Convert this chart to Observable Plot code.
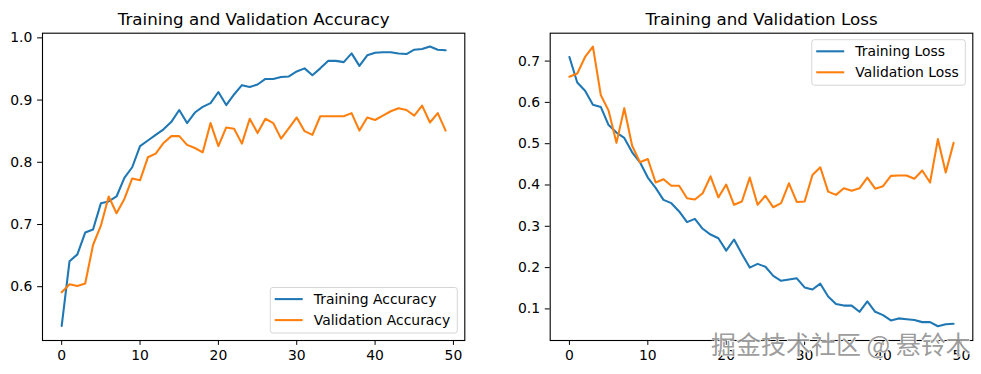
<!DOCTYPE html>
<html>
<head>
<meta charset="utf-8">
<script src="https://cdn.jsdelivr.net/npm/d3@7"></script>
<script src="https://cdn.jsdelivr.net/npm/@observablehq/plot@0.6"></script>
<style>
  html, body { margin: 0; padding: 0; background: white; }
  #wrap { position: relative; width: 981px; height: 374px; overflow: hidden; background: white; }
  #wrap > svg { position: absolute; top: 0; }
</style>
</head>
<body>
<div id="wrap"></div>
<script>
// ---- data ----
const trainAcc = [0.537,0.641,0.652,0.687,0.692,0.734,0.737,0.745,0.775,0.792,
  0.826,0.835,0.844,0.853,0.865,0.884,0.863,0.880,0.889,0.895,
  0.913,0.892,0.909,0.924,0.921,0.925,0.934,0.934,0.937,0.938,
  0.946,0.951,0.940,0.951,0.963,0.963,0.961,0.975,0.955,0.972,
  0.976,0.977,0.977,0.975,0.974,0.981,0.982,0.986,0.981,0.980];
const valAcc = [0.591,0.604,0.601,0.605,0.667,0.698,0.745,0.718,0.741,0.774,
  0.771,0.808,0.814,0.831,0.842,0.842,0.828,0.823,0.816,0.863,
  0.826,0.856,0.854,0.830,0.870,0.847,0.870,0.863,0.838,0.855,
  0.872,0.850,0.844,0.874,0.874,0.874,0.874,0.879,0.851,0.872,
  0.868,0.875,0.882,0.887,0.884,0.875,0.891,0.864,0.879,0.851];
const trainLoss = [0.710,0.648,0.628,0.594,0.589,0.545,0.527,0.514,0.479,0.455,
  0.418,0.393,0.364,0.356,0.336,0.310,0.318,0.294,0.280,0.271,
  0.241,0.268,0.233,0.200,0.209,0.202,0.180,0.168,0.171,0.174,
  0.152,0.147,0.161,0.130,0.112,0.108,0.108,0.093,0.118,0.093,
  0.085,0.072,0.077,0.075,0.073,0.068,0.068,0.058,0.063,0.064];
const valLoss = [0.662,0.670,0.710,0.735,0.618,0.580,0.502,0.586,0.495,0.455,
  0.463,0.406,0.414,0.398,0.398,0.368,0.365,0.380,0.421,0.370,
  0.401,0.352,0.360,0.418,0.352,0.374,0.346,0.356,0.404,0.359,
  0.360,0.424,0.443,0.384,0.376,0.392,0.386,0.392,0.418,0.391,
  0.397,0.422,0.423,0.423,0.415,0.435,0.406,0.511,0.430,0.502];
const xTicks = [0, 10, 20, 30, 40, 50];
const accTicks = [0.6, 0.7, 0.8, 0.9, 1.0];
const lossTicks = [0.1, 0.2, 0.3, 0.4, 0.5, 0.6, 0.7];
const titles = ["Training and Validation Accuracy", "Training and Validation Loss"];
const accLabels = ["Training Accuracy", "Validation Accuracy"];
const lossLabels = ["Training Loss", "Validation Loss"];
const watermark = "掘金技术社区 @ 悬铃木";

// ---- styling ----
const BLUE = "#1f77b4", ORANGE = "#ff7f0e";
const FONT = "DejaVu Sans";
const LW = 2.08;

function legendMark(items, corner, boxW, boxH) {
  return (index, scales, values, dims) => {
    const pad = 7;
    const fx0 = dims.marginLeft, fx1 = dims.width - dims.marginRight;
    const fy0 = dims.marginTop, fy1 = dims.height - dims.marginBottom;
    const x = fx1 - pad - boxW;
    const y = corner === "bottom" ? fy1 - pad - boxH : fy0 + pad;
    const g = d3.create("svg:g");
    g.append("rect").attr("x", x).attr("y", y).attr("width", boxW).attr("height", boxH)
      .attr("rx", 2.5).attr("fill", "white").attr("fill-opacity", 0.8)
      .attr("stroke", "#cccccc").attr("stroke-opacity", 0.8).attr("stroke-width", 1);
    items.forEach((it, k) => {
      const cy = y + 11.6 + k * 21;
      g.append("line").attr("x1", x + 4.4).attr("x2", x + 32.4).attr("y1", cy).attr("y2", cy)
        .attr("stroke", it.color).attr("stroke-width", LW);
      g.append("text").attr("x", x + 43.5).attr("y", cy).attr("dy", "0.36em")
        .attr("text-anchor", "start")
        .attr("fill", "black").attr("font-size", 13.9).attr("font-family", FONT).text(it.label);
    });
    return g.node();
  };
}

function panel({width, left, marginLeft, marginRight, yDomain, yTicks, series, title, legend, extra = []}) {
  const svg = Plot.plot({
    width, height: 374,
    marginLeft, marginRight, marginTop: 32.7, marginBottom: 34,
    style: {fontFamily: FONT, fontSize: "13.9px", color: "black", background: "white", overflow: "visible"},
    x: {domain: [-2.45, 51.45]},
    y: {domain: yDomain},
    marks: [
      Plot.axisX({ticks: xTicks, tickSize: 4.9, tickPadding: 4.9, label: null, fontSize: 13.9, tickFormat: d3.format("d")}),
      Plot.axisY({ticks: yTicks, tickSize: 4.9, tickPadding: 5.3, label: null, fontSize: 13.9, tickFormat: d3.format(".1f")}),
      ...series.map(s => Plot.lineY(s.data, {stroke: s.color, strokeWidth: LW})),
      Plot.frame({stroke: "black", strokeWidth: 1.1}),
      Plot.text([title], {frameAnchor: "top", lineAnchor: "bottom", dy: -8.6, fontSize: 16.7, fill: "black"}),
      legend,
      ...extra
    ]
  });
  svg.style.left = left + "px";
  document.getElementById("wrap").appendChild(svg);
}

panel({
  width: 500, left: 0, marginLeft: 42, marginRight: 35.7,
  yDomain: [0.5135, 1.0075], yTicks: accTicks,
  series: [{data: trainAcc, color: BLUE}, {data: valAcc, color: ORANGE}],
  title: titles[0],
  legend: legendMark([{label: accLabels[0], color: BLUE}, {label: accLabels[1], color: ORANGE}], "bottom", 187, 45.5)
});

panel({
  width: 481, left: 500, marginLeft: 49.7, marginRight: 8.7,
  yDomain: [0.0235, 0.7675], yTicks: lossTicks,
  series: [{data: trainLoss, color: BLUE}, {data: valLoss, color: ORANGE}],
  title: titles[1],
  legend: legendMark([{label: lossLabels[0], color: BLUE}, {label: lossLabels[1], color: ORANGE}], "top", 153.5, 45.5),
  extra: [
    Plot.text([watermark], {frameAnchor: "bottom-right", textAnchor: "end", lineAnchor: "middle", dx: -2, dy: 5,
      fontSize: 25, fontFamily: "Noto Sans CJK SC", fill: "#8f8f8f", stroke: "white", strokeWidth: 1.2, fillOpacity: 0.9})
  ]
});
</script>
</body>
</html>
